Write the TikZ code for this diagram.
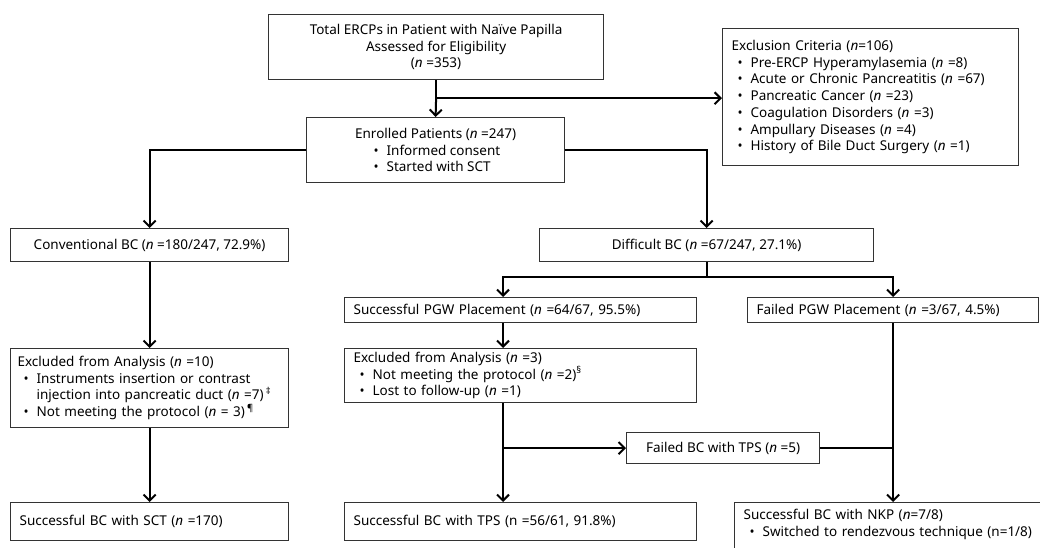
\documentclass[tikz,border=0pt]{standalone}
\usepackage{fontspec}
\setmainfont{Noto Sans}
\usetikzlibrary{arrows.meta,calc}
\newcommand{\nn}{\textit{n}}
\newcommand{\bl}[1]{\hspace*{6pt}\makebox[13pt][l]{•}#1}
\newcommand{\bc}[1]{\makebox[13pt][l]{•}#1}
\begin{document}
\begin{tikzpicture}[x=1pt,y=-1pt,
  font=\fontsize{13.5pt}{16.7pt}\selectfont,
  box/.style={draw=black!80, line width=1.2pt, fill=white, anchor=north west, inner sep=0pt},
  lbox/.style={box, align=left, inner xsep=9pt},
  cbox/.style={box, align=center},
  conn/.style={line width=2pt, black, -{Straight Barb[length=6pt,width=12pt]}},
  plain/.style={line width=2pt, black}
]
\useasboundingbox (0,0) rectangle (1040,548);
\clip (0,0) rectangle (1040,548);
\fill[white] (0,0) rectangle (1040,548);

% nodes
\node[cbox, minimum width=335pt, minimum height=65pt] (top) at (268,14)
  {Total ERCPs in Patient with Naïve Papilla\\Assessed for Eligibility\\(\nn{} =353)};
\node[lbox, minimum width=296pt, minimum height=137pt, text width=278pt] (excl) at (722,28)
  {Exclusion Criteria (\nn=106)\\
   \bl{Pre-ERCP Hyperamylasemia (\nn{} =8)}\\
   \bl{Acute or Chronic Pancreatitis (\nn{} =67)}\\
   \bl{Pancreatic Cancer (\nn{} =23)}\\
   \bl{Coagulation Disorders (\nn{} =3)}\\
   \bl{Ampullary Diseases (\nn{} =4)}\\
   \bl{History of Bile Duct Surgery (\nn{} =1)}};
\node[cbox, minimum width=258pt, minimum height=65pt] (enr) at (306,117)
  {Enrolled Patients (\nn{} =247)\\
   \makebox[124pt][l]{\bc{Informed consent}}\\
   \makebox[124pt][l]{\bc{Started with SCT}}};
\node[cbox, minimum width=278pt, minimum height=33pt] (conv) at (10,228)
  {Conventional BC (\nn{} =180/247, 72.9\%)};
\node[cbox, minimum width=334pt, minimum height=33pt] (diff) at (539,228)
  {Difficult BC (\nn{} =67/247, 27.1\%)};
\node[lbox, minimum width=352pt, minimum height=25pt, text width=334pt] (spgw) at (344,297)
  {Successful PGW Placement (\nn{} =64/67, 95.5\%)};
\node[lbox, minimum width=291pt, minimum height=25pt, text width=273pt] (fpgw) at (747,297)
  {Failed PGW Placement (\nn{} =3/67, 4.5\%)};
\node[lbox, minimum width=278pt, minimum height=79pt, text width=264pt, inner xsep=7pt] (exL) at (10,348)
  {Excluded from Analysis (\nn{} =10)\\
   \bl{Instruments insertion or contrast}\\
   \hspace*{19pt}injection into pancreatic duct (\nn{} =7)\,\textsuperscript{‡}\\
   \bl{Not meeting the protocol (\nn{} = 3)\,\textsuperscript{¶}}};
\node[lbox, minimum width=352pt, minimum height=54pt, text width=334pt] (exR) at (344,348)
  {Excluded from Analysis (\nn{} =3)\\
   \bl{Not meeting the protocol (\nn{} =2)\textsuperscript{§}}\\
   \bl{Lost to follow-up (\nn{} =1)}};
\node[cbox, minimum width=193pt, minimum height=31pt] (ftps) at (626,432)
  {Failed BC with TPS (\nn{} =5)};
\node[lbox, minimum width=278pt, minimum height=38pt, text width=260pt] (sct) at (10,502)
  {Successful BC with SCT (\nn{} =170)};
\node[lbox, minimum width=352pt, minimum height=38pt, text width=334pt] (tps) at (344,502)
  {Successful BC with TPS (n =56/61, 91.8\%)};
\node[lbox, text width=320pt, inner ysep=7pt] (nkp) at (734,502)
  {Successful BC with NKP (\nn=7/8)\\
   \bl{Switched to rendezvous technique (n=1/8)}\\ \strut};

% connectors
\path (top.south) ++(0,18) coordinate (b1);
\draw[plain] (top.south) -- (b1);
\draw[conn] (b1) -- (enr.north);
\draw[conn] (b1) -- (b1 -| excl.west);
\draw[conn] (enr.west) -| (conv.north);
\draw[conn] (enr.east) -| (diff.north);
\draw[conn] (conv.south) -- (exL.north);
\draw[conn] (exL.south) -- (sct.north);
\path (diff.south) ++(0,15) coordinate (b2);
\coordinate (col) at (503,0);
\draw[plain] (diff.south) -- (b2);
\draw[conn] (b2) -- (b2 -| col) -- (col |- spgw.north);
\draw[conn] (b2) -| (fpgw.south |- fpgw.north);
\draw[conn] (col |- spgw.south) -- (col |- exR.north);
\draw[conn] (col |- exR.south) -- (col |- tps.north);
\draw[conn] (col |- ftps.west) -- (ftps.west);
\draw[plain] (ftps.east) -- (ftps.east -| fpgw.south);
\draw[conn] (fpgw.south) -- (fpgw.south |- nkp.north);
\end{tikzpicture}
\end{document}
